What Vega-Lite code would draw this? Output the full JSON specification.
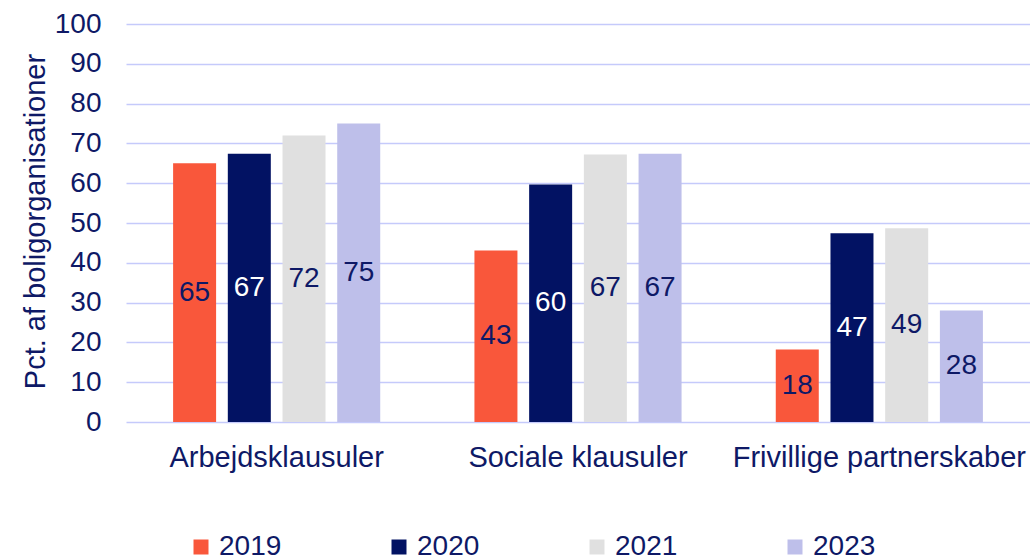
{
  "$schema": "https://vega.github.io/schema/vega-lite/v6.json",
  "width": 904,
  "height": 398,
  "autosize": {"type": "none"},
  "padding": {"left": 126, "top": 24, "right": 0, "bottom": 136},
  "background": "white",
  "config": {
    "view": {"stroke": null},
    "font": "Liberation Sans",
    "text": {"font": "Liberation Sans"}
  },
  "data": {
    "values": [
      {"category": "Arbejdsklausuler", "year": "2019", "value": 65},
      {"category": "Arbejdsklausuler", "year": "2020", "value": 67.4},
      {"category": "Arbejdsklausuler", "year": "2021", "value": 72},
      {"category": "Arbejdsklausuler", "year": "2023", "value": 75},
      {"category": "Sociale klausuler", "year": "2019", "value": 43.1},
      {"category": "Sociale klausuler", "year": "2020", "value": 59.7},
      {"category": "Sociale klausuler", "year": "2021", "value": 67.2},
      {"category": "Sociale klausuler", "year": "2023", "value": 67.4},
      {"category": "Frivillige partnerskaber", "year": "2019", "value": 18.2},
      {"category": "Frivillige partnerskaber", "year": "2020", "value": 47.4},
      {"category": "Frivillige partnerskaber", "year": "2021", "value": 48.7},
      {"category": "Frivillige partnerskaber", "year": "2023", "value": 28}
    ]
  },
  "encoding": {
    "x": {
      "field": "category",
      "type": "nominal",
      "sort": ["Arbejdsklausuler", "Sociale klausuler", "Frivillige partnerskaber"],
      "scale": {"paddingInner": 0, "paddingOuter": 0},
      "axis": {
        "title": null,
        "labelAngle": 0,
        "ticks": false,
        "domain": false,
        "labelFontSize": 29,
        "labelColor": "#0E1966",
        "labelBaseline": "alphabetic",
        "labelPadding": 44,
        "labelLimit": 400,
        "labelFont": "Liberation Sans"
      }
    },
    "xOffset": {
      "field": "year",
      "type": "nominal",
      "sort": ["2019", "2020", "2021", "2023"],
      "scale": {"paddingInner": 0.214, "paddingOuter": 0.861}
    }
  },
  "layer": [
    {
      "mark": {"type": "bar"},
      "encoding": {
        "y": {
          "field": "value",
          "type": "quantitative",
          "scale": {"domain": [0, 100], "nice": false},
          "axis": {
            "title": "Pct. af boligorganisationer",
            "values": [0, 10, 20, 30, 40, 50, 60, 70, 80, 90, 100],
            "ticks": false,
            "domain": false,
            "grid": true,
            "gridColor": "#C5CAFB",
            "gridWidth": 1.5,
            "labelFontSize": 28,
            "labelColor": "#0E1966",
            "labelPadding": 25,
            "labelFont": "Liberation Sans",
            "titleFontSize": 29,
            "titleFontWeight": "normal",
            "titleColor": "#0E1966",
            "titleFont": "Liberation Sans",
            "titleAngle": -90,
            "titleX": -82,
            "titleY": 197,
            "titleAlign": "center",
            "titleBaseline": "alphabetic",
            "titleLimit": 500
          }
        },
        "color": {
          "field": "year",
          "type": "nominal",
          "sort": ["2019", "2020", "2021", "2023"],
          "scale": {
            "domain": ["2019", "2020", "2021", "2023"],
            "range": ["#F9573B", "#021263", "#E0E0E0", "#BEBFEA"]
          },
          "legend": {
            "title": null,
            "orient": "none",
            "direction": "horizontal",
            "legendX": 61,
            "legendY": 509,
            "padding": 0,
            "symbolType": "square",
            "symbolSize": 225,
            "symbolStrokeWidth": 0,
            "labelFontSize": 28,
            "labelColor": "#0E1966",
            "labelFont": "Liberation Sans",
            "labelOffset": 4,
            "columnPadding": 103,
            "labelLimit": 200
          }
        }
      }
    },
    {
      "mark": {"type": "text", "fontSize": 28, "font": "Liberation Sans", "baseline": "middle", "align": "center"},
      "encoding": {
        "y": {
          "field": "value",
          "type": "quantitative",
          "scale": {"domain": [0, 200], "nice": false},
          "axis": null
        },
        "text": {"field": "value", "type": "quantitative", "format": ".0f"},
        "color": {
          "condition": {"test": "datum.year === '2020'", "value": "#FFFFFF"},
          "value": "#0E1966"
        }
      }
    }
  ],
  "resolve": {"scale": {"y": "independent"}}
}
